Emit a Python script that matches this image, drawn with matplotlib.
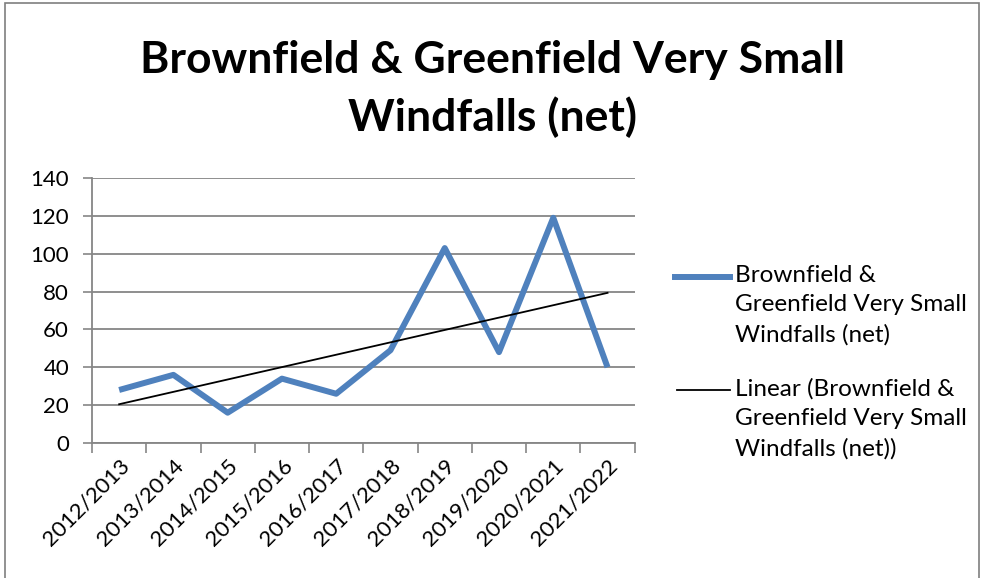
import numpy as np
import matplotlib
matplotlib.use("Agg")
import matplotlib.pyplot as plt
from matplotlib.lines import Line2D
from matplotlib.patches import Rectangle

years = ["2012/2013", "2013/2014", "2014/2015", "2015/2016", "2016/2017",
         "2017/2018", "2018/2019", "2019/2020", "2020/2021", "2021/2022"]
windfalls = [28, 36, 16, 34, 26, 49, 103, 48, 119, 40]
y_ticks = [0, 20, 40, 60, 80, 100, 120, 140]

series_label = "Brownfield &\nGreenfield Very Small\nWindfalls (net)"
trend_label = "Linear (Brownfield &\nGreenfield Very Small\nWindfalls (net))"

plt.rcParams['font.family'] = ['Lato', 'DejaVu Sans']

fig = plt.figure(figsize=(9.84, 5.78), dpi=100)
ax = fig.add_axes([0.0935, 0.2336, 0.5515, 0.4584])

x = np.arange(len(years))
# linear trendline like Excel's
slope, intercept = np.polyfit(x, windfalls, 1)
trend = slope * x + intercept

ax.plot(x, windfalls, color='#4F81BD', lw=4.3, solid_capstyle='butt', zorder=3)
ax.plot(x, trend, color='black', lw=1.3, zorder=4)

ax.set_xlim(-0.5, len(years) - 0.5)
ax.set_ylim(0, 140)
ax.set_yticks(y_ticks)
ax.set_yticklabels([str(v) for v in y_ticks], fontsize=16)
ax.set_xticks(x)
ax.set_xticklabels(years, rotation=45, ha='right', rotation_mode='anchor', fontsize=16)
ax.tick_params(axis='x', length=0, pad=9)
ax.tick_params(axis='y', length=6.5, color='#868686', width=1.2, pad=10)
# category boundary tick marks
ax.set_xticks(np.arange(-0.5, len(years)), minor=True)
ax.tick_params(axis='x', which='minor', length=7, color='#868686', width=1.2)

ax.yaxis.grid(True, color='#868686', lw=1.3)
ax.set_axisbelow(True)
for s in ['top', 'right']:
    ax.spines[s].set_visible(False)
for s in ['left', 'bottom']:
    ax.spines[s].set_color('#868686')
    ax.spines[s].set_linewidth(1.3)

fig.text(0.5, 0.846, "Brownfield & Greenfield Very Small\nWindfalls (net)",
         ha='center', va='center', fontsize=32, fontweight='bold', linespacing=1.45)

# legend drawn by hand so the swatch sits beside the first line of text
fig.add_artist(Line2D([0.686, 0.742], [0.521, 0.521], color='#4F81BD', lw=4.3))
fig.text(0.747, 0.542, series_label, ha='left', va='top', fontsize=17.5, linespacing=1.5)
fig.add_artist(Line2D([0.688, 0.742], [0.325, 0.325], color='black', lw=1.3))
fig.text(0.747, 0.346, trend_label, ha='left', va='top', fontsize=17.5, linespacing=1.5)

fig.add_artist(Rectangle((0.005, -0.01), 0.99, 1.004, transform=fig.transFigure,
                         fill=False, edgecolor='#7f7f7f', lw=1.2))

fig.savefig("out.png", dpi=100)
